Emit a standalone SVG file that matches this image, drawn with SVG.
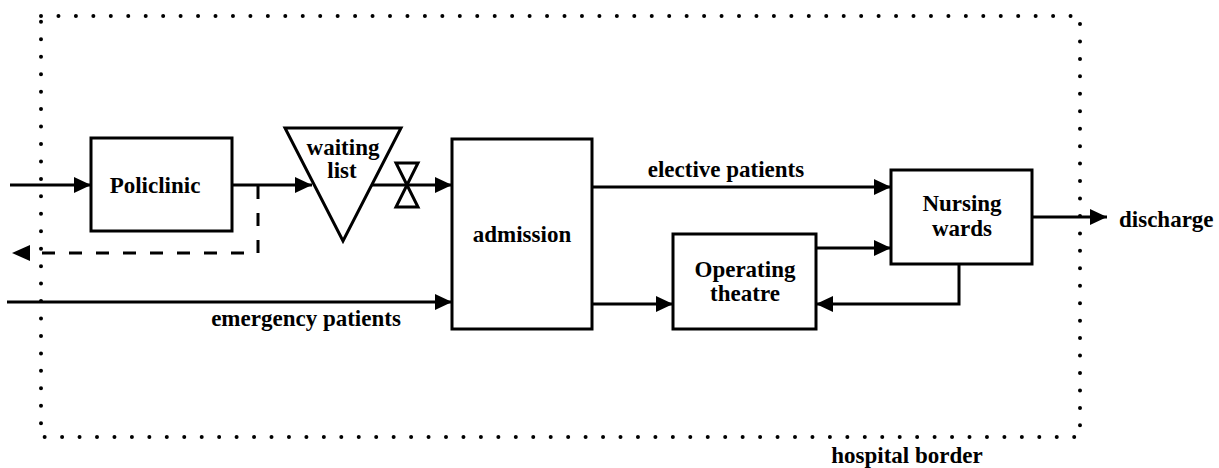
<svg xmlns="http://www.w3.org/2000/svg" width="1219" height="468" viewBox="0 0 1219 468">
  <style>
    .box { fill: #fff; stroke: #000; stroke-width: 3; }
    .lbl { font-family: "Liberation Serif", "Times New Roman", serif; font-weight: bold; font-size: 23px; fill: #000; text-anchor: middle; }
    .flow { fill: none; stroke: #000; stroke-width: 3; }
    .dash { fill: none; stroke: #000; stroke-width: 3; stroke-dasharray: 13 14; }
    .border { fill: none; stroke: #000; stroke-width: 4; stroke-linecap: round; stroke-dasharray: 0 17.45; }
  </style>
  <defs>
    <marker id="arrow" markerWidth="17" markerHeight="16" refX="17" refY="8" orient="auto" markerUnits="userSpaceOnUse">
      <path d="M0 0 L17 8 L0 16 Z" fill="#000"/>
    </marker>
  </defs>

  <rect width="1219" height="468" fill="#fff"/>

  <!-- hospital boundary -->
  <g id="hospital-border">
    <rect class="border" x="41" y="16" width="1039" height="421"/>
    <text class="lbl" x="907" y="463">hospital border</text>
  </g>

  <!-- connectors -->
  <g id="connectors">
    <path class="flow" d="M10 185 H91" marker-end="url(#arrow)"/>
    <path class="flow" d="M232 185 H312" marker-end="url(#arrow)"/>
    <path class="dash" d="M258 186 V253 H30"/>
    <path d="M12 253 L30 245 L30 261 Z" fill="#000"/>
    <path class="flow" d="M372 185 H452" marker-end="url(#arrow)"/>
    <path class="flow" d="M7 302 H452" marker-end="url(#arrow)"/>
    <text class="lbl" x="306" y="326">emergency patients</text>
    <path class="flow" d="M592 187 H891" marker-end="url(#arrow)"/>
    <text class="lbl" x="726" y="177">elective patients</text>
    <path class="flow" d="M592 304 H673" marker-end="url(#arrow)"/>
    <path class="flow" d="M816 248 H891" marker-end="url(#arrow)"/>
    <path class="flow" d="M959 264 V304 H816" marker-end="url(#arrow)"/>
    <path class="flow" d="M1032 217 H1107" marker-end="url(#arrow)"/>
    <text class="lbl" x="1119" y="227" style="text-anchor:start">discharge</text>
    <!-- valve on the waiting-list outflow -->
    <path class="flow" d="M396 163 H418 L396 207 H418 Z" stroke-linejoin="miter"/>
  </g>

  <g id="policlinic">
    <rect class="box" x="91" y="138" width="141" height="93"/>
    <text class="lbl" x="155" y="193">Policlinic</text>
  </g>

  <g id="waiting-list">
    <path class="box" d="M285 128 H401 L343 241 Z"/>
    <text class="lbl" x="343" y="155">waiting</text>
    <text class="lbl" x="342" y="178">list</text>
  </g>

  <g id="admission">
    <rect class="box" x="452" y="139" width="140" height="190"/>
    <text class="lbl" x="522" y="242">admission</text>
  </g>

  <g id="operating-theatre">
    <rect class="box" x="673" y="234" width="143" height="95"/>
    <text class="lbl" x="745" y="277">Operating</text>
    <text class="lbl" x="745" y="301">theatre</text>
  </g>

  <g id="nursing-wards">
    <rect class="box" x="891" y="170" width="141" height="94"/>
    <text class="lbl" x="962" y="211">Nursing</text>
    <text class="lbl" x="962" y="236">wards</text>
  </g>
</svg>
